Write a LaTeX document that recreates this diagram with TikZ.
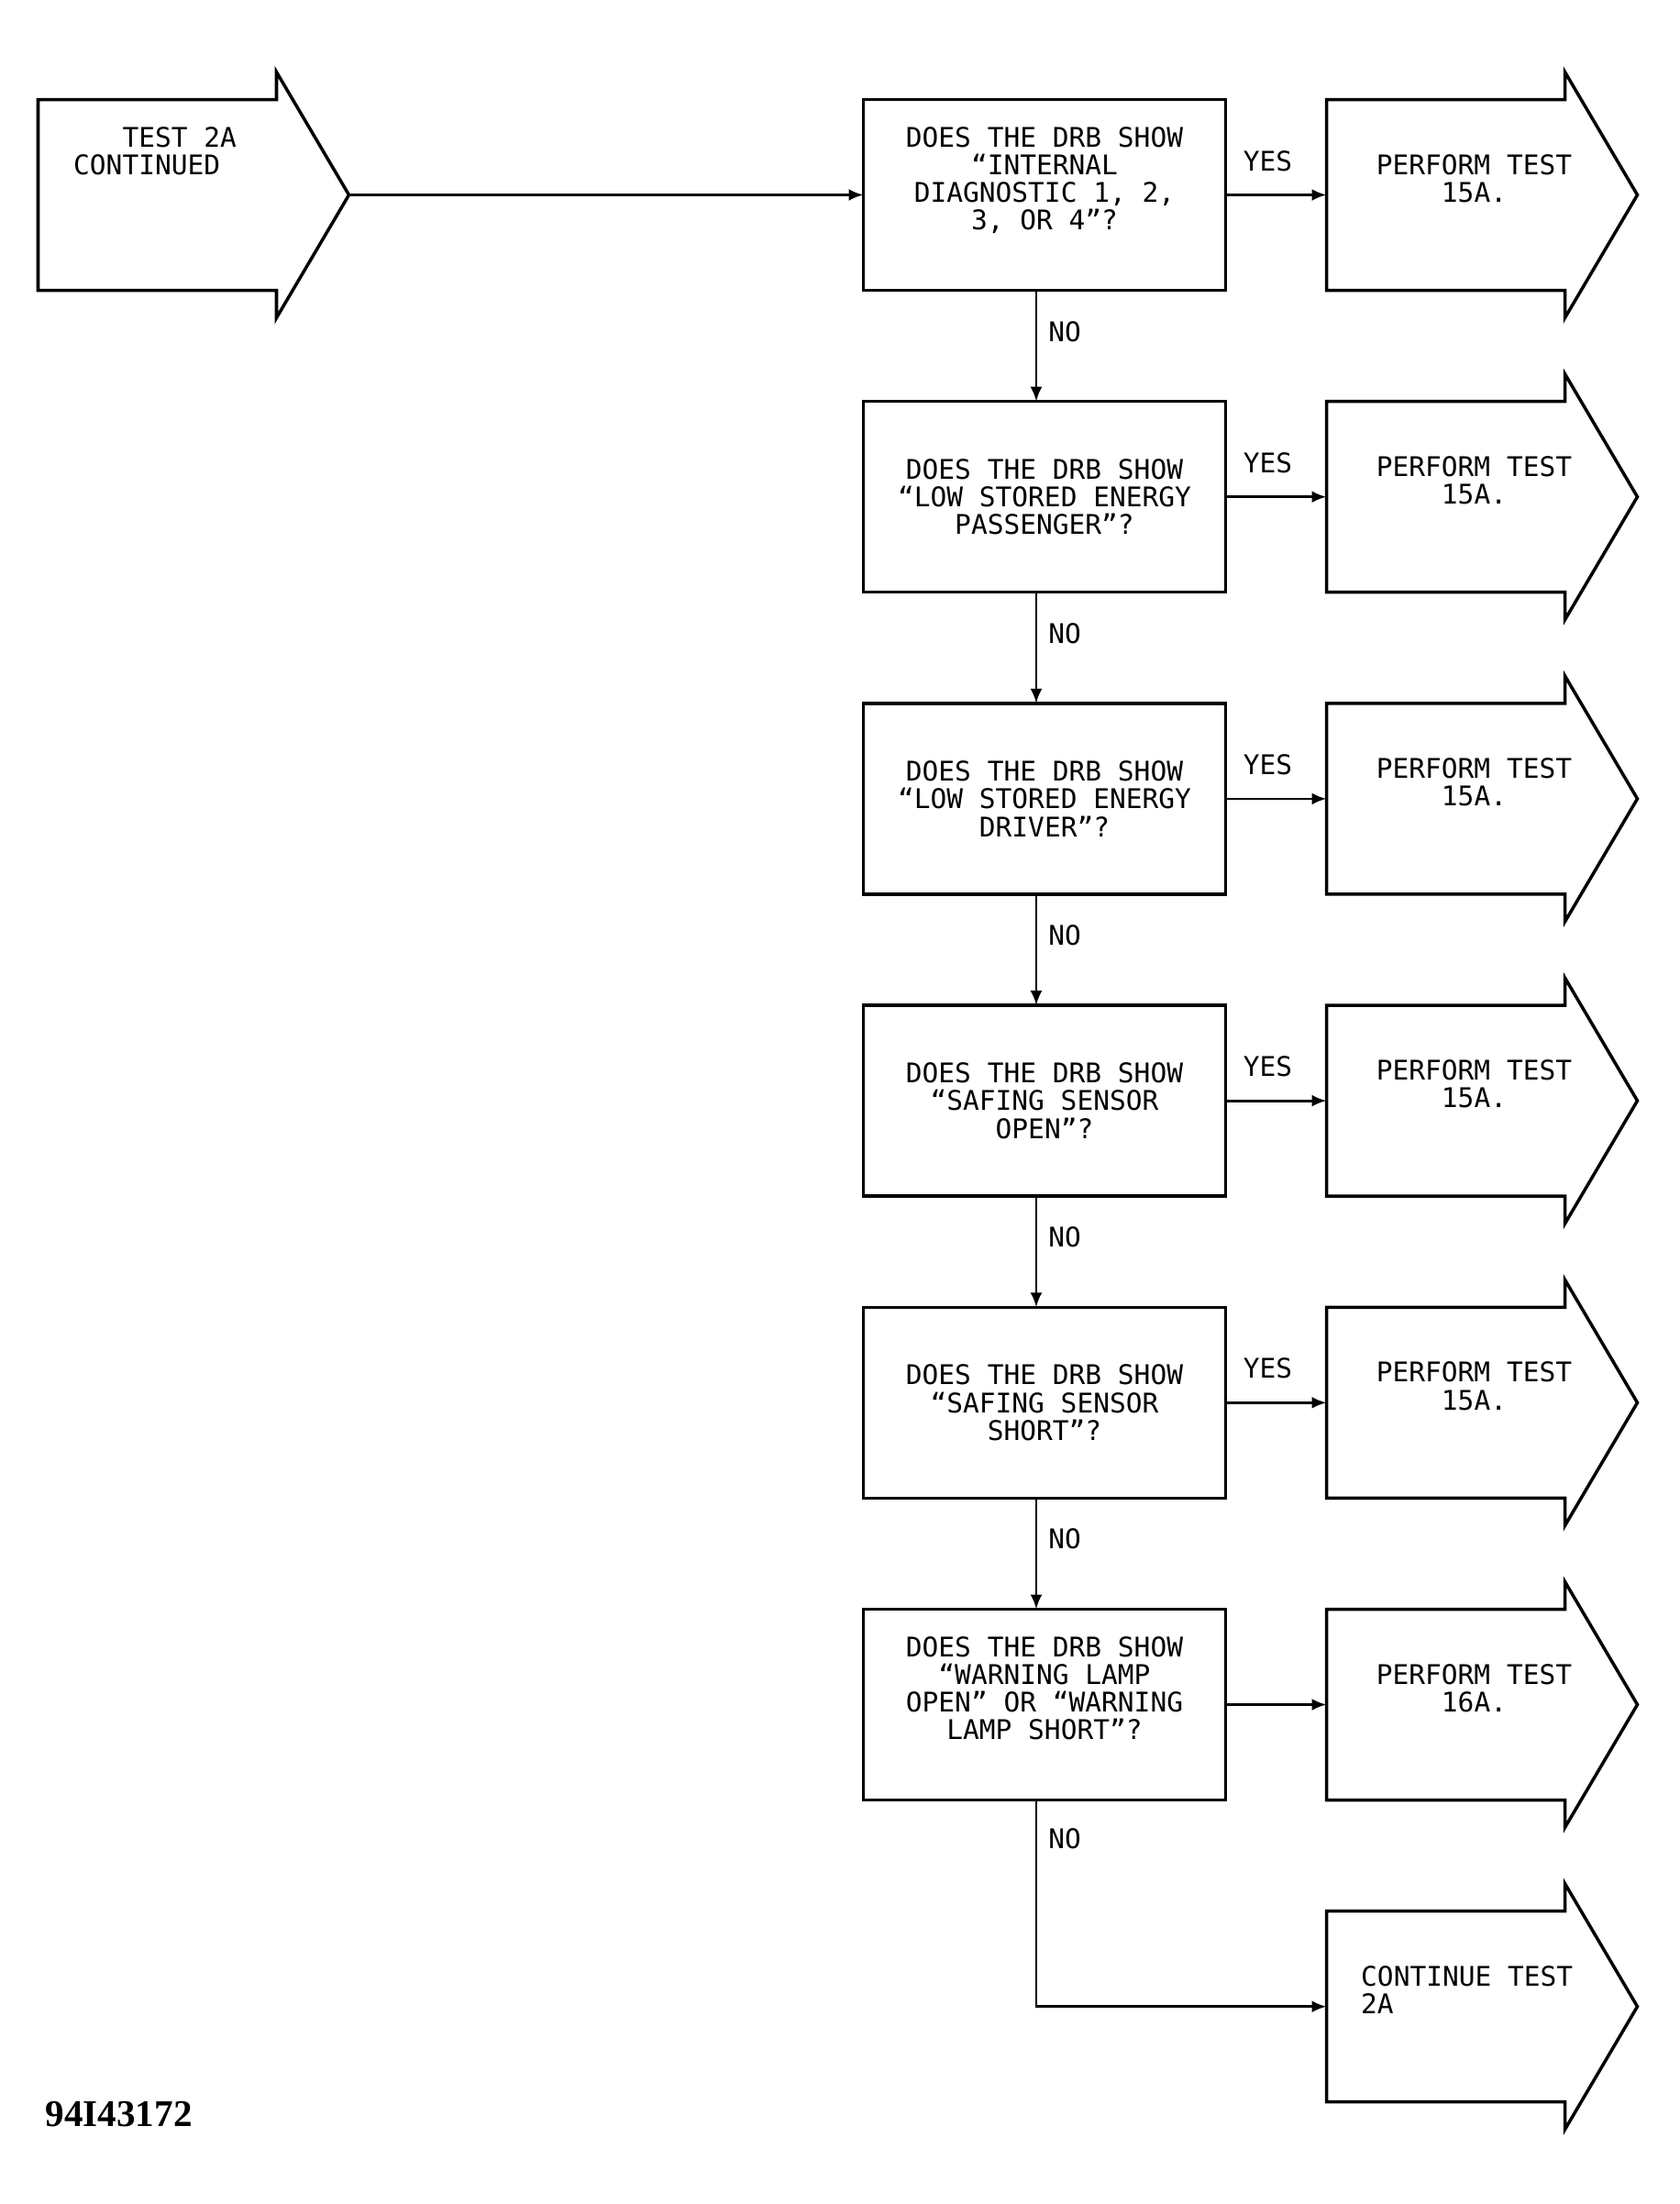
\documentclass[tikz,border=0pt]{standalone}
\usepackage{fontspec}
\usetikzlibrary{positioning, arrows.meta}
\newfontfamily\plotfont{DejaVu Sans Mono}
\newfontfamily\figfont{Liberation Serif}
\newcommand{\plotsize}{\plotfont\fontsize{8.4}{8.6}\selectfont}
\tikzset{
    qbox/.style={draw, line width=1pt, minimum width=3.95cm,
        minimum height=2.08cm, inner sep=0pt, outer sep=0pt,
        align=center, font=\plotsize},
    fourline/.style={text depth=0.36cm},
    abody/.style={minimum width=2.6cm, minimum height=2.08cm,
        inner sep=0pt, outer sep=0pt},
    atext/.style={align=center, inner sep=0pt, font=\plotsize},
    outline/.style={line width=1pt, line join=miter},
    flow/.style={line width=0.8pt, -{Latex[length=1.6mm, width=1.3mm]}},
    lbl/.style={inner sep=0pt, font=\plotsize}
}
\begin{document}
\begin{tikzpicture}[node distance=1.212cm]
    \useasboundingbox (0, 0) rectangle (18.32, -24.03);
    % questions
    \node[qbox, fourline] (q1) at (11.39, -2.125)
        {DOES THE DRB SHOW\\“INTERNAL\\DIAGNOSTIC 1, 2,\\3, OR 4”?};
    \node[qbox, below=of q1] (q2)
        {DOES THE DRB SHOW\\“LOW STORED ENERGY\\PASSENGER”?};
    \node[qbox, below=of q2] (q3)
        {DOES THE DRB SHOW\\“LOW STORED ENERGY\\DRIVER”?};
    \node[qbox, below=of q3] (q4)
        {DOES THE DRB SHOW\\“SAFING SENSOR\\OPEN”?};
    \node[qbox, below=of q4] (q5)
        {DOES THE DRB SHOW\\“SAFING SENSOR\\SHORT”?};
    \node[qbox, fourline, below=of q5] (q6)
        {DOES THE DRB SHOW\\“WARNING LAMP\\OPEN” OR “WARNING\\LAMP SHORT”?};
    % big arrows
    \node[abody, left=6.4cm of q1] (start) {};
    \foreach \i in {1,...,6}
        \node[abody, right=1.1cm of q\i] (p\i) {};
    \node[abody, below=of p6] (cont) {};
    \foreach \a in {start,p1,p2,p3,p4,p5,p6,cont}
        \draw[outline] (\a.south west) -- (\a.north west) -- (\a.north east)
            -- ++(0, 0.3) -- ++(0.79, -1.34) -- ++(-0.79, -1.34)
            -- ++(0, 0.3) -- cycle;
    \coordinate (starttip) at ([xshift=0.79cm]start.east);
    \node[atext, align=left, anchor=west] (tstart)
        at ([shift={(0.38, 0.48)}]start.west) {\phantom{TES}TEST 2A\\CONTINUED};
    \foreach \i in {1,...,5}
        \node[atext] (t\i) at ([shift={(0.31, 0.18)}]p\i.center)
            {PERFORM TEST\\15A.};
    \node[atext] (t6) at ([shift={(0.31, 0.18)}]p6.center) {PERFORM TEST\\16A.};
    \node[atext, align=left, anchor=west] (tcont)
        at ([shift={(0.37, 0.18)}]cont.west) {CONTINUE TEST\\2A};
    % connectors
    \draw[flow] (starttip) -- (q1.west);
    \foreach \i in {1,...,5}
        \draw[flow] (q\i.east) -- node[lbl, above=7pt, xshift=-0.09cm] (yes\i)
            {YES} (p\i.west);
    \draw[flow] (q6.east) -- (p6.west);
    \foreach \i/\j in {1/2,2/3,3/4,4/5,5/6}
        \draw[flow] ([xshift=-0.09cm]q\i.south) -- node[lbl, pos=0.37,
            right=0.12cm] (no\i) {NO} ([xshift=-0.09cm]q\j.north);
    \draw[flow] ([xshift=-0.09cm]q6.south) |- node[lbl, pos=0.093,
        right=0.12cm] (no6) {NO} (cont.west);
    \node[anchor=base west, inner sep=0pt,
        font=\figfont\bfseries\fontsize{11.7}{14}\selectfont] (fignum)
        at (0.49, -23.18) {94I43172};
\end{tikzpicture}
\end{document}
